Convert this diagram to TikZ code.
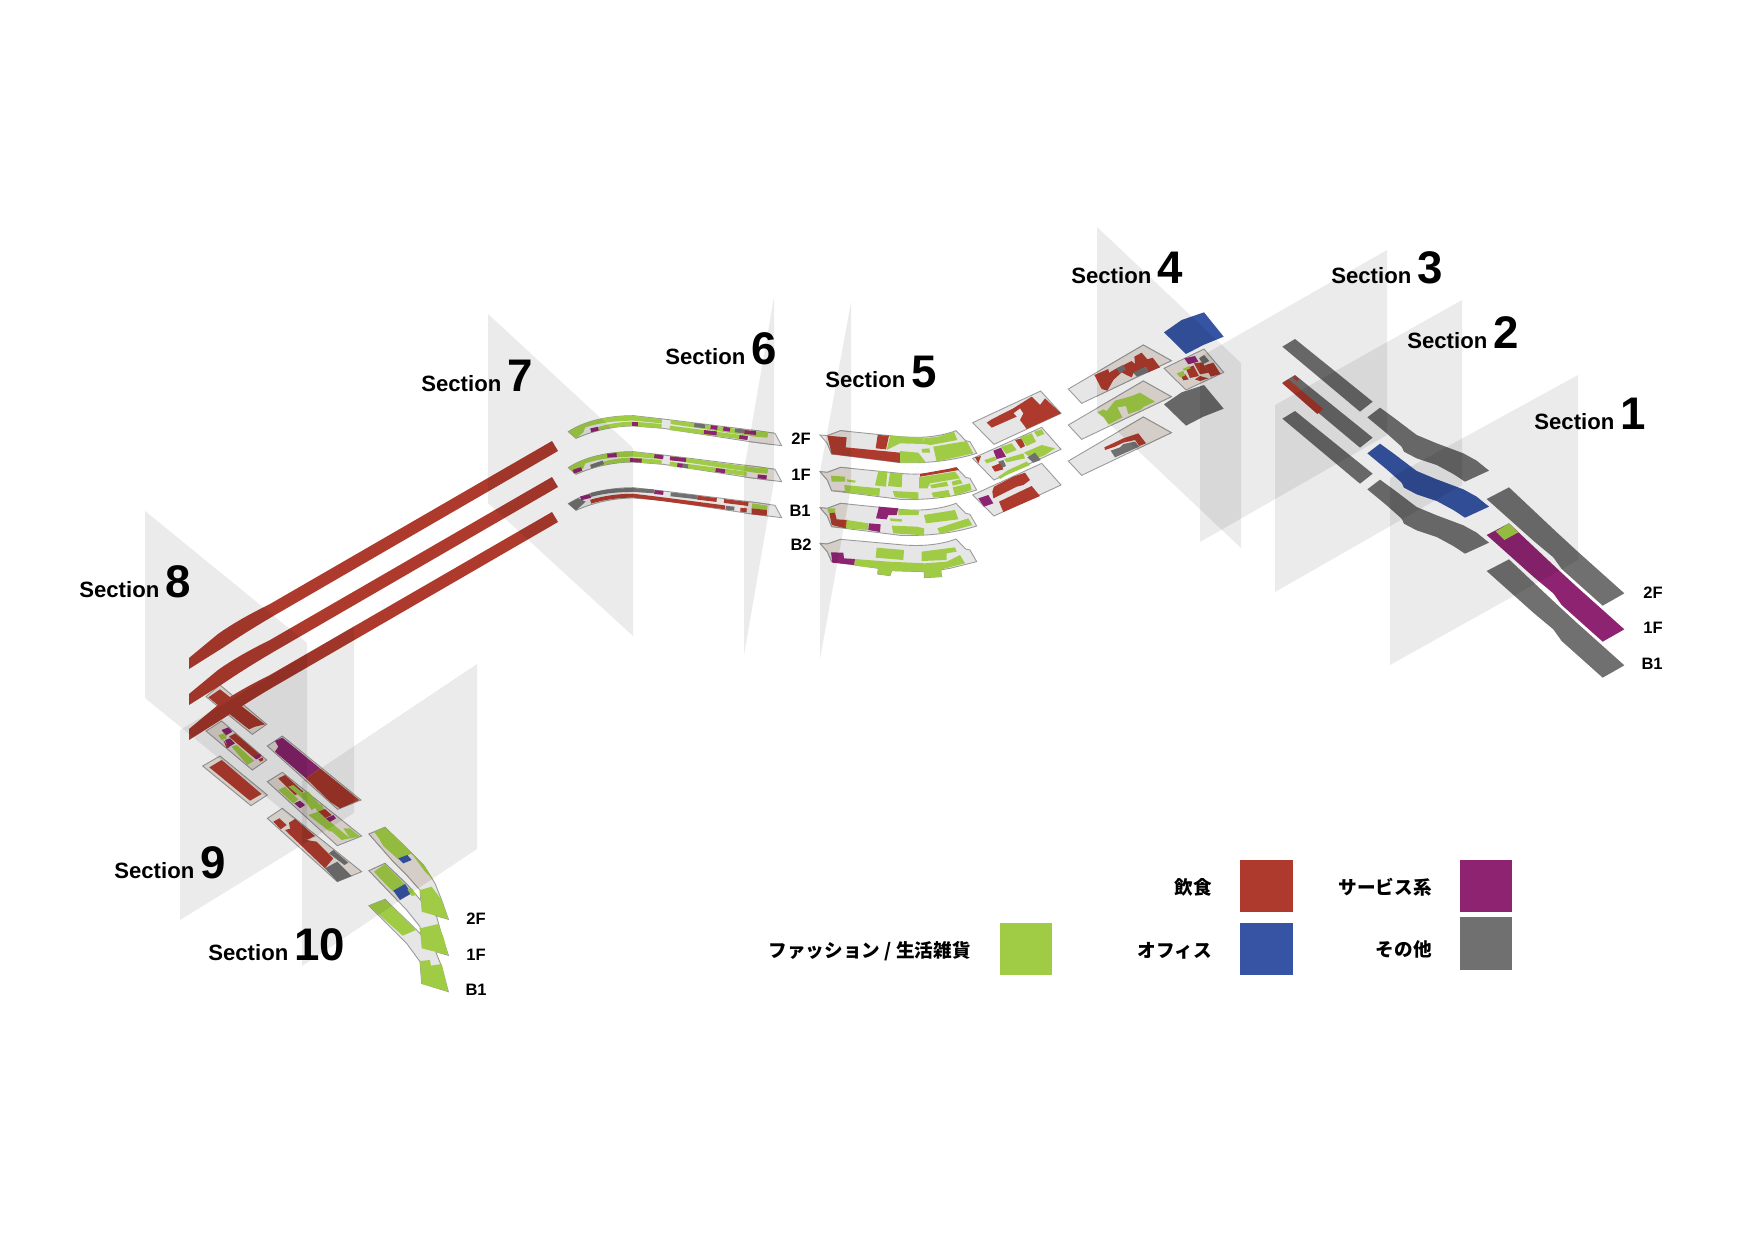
\documentclass[tikz,border=0pt]{standalone}
\usepackage{fontspec}
\setmainfont{Liberation Sans}
\newfontfamily\cjkfont{Noto Sans CJK JP}
\definecolor{foodred}{HTML}{AE3A2E}
\definecolor{shopgreen}{HTML}{A0CB45}
\definecolor{officeblue}{HTML}{3654A3}
\definecolor{servicepurple}{HTML}{8E2471}
\definecolor{othergray}{HTML}{707070}
\definecolor{floorgray}{HTML}{E6E6E6}
\definecolor{floorbeige}{HTML}{E8DFD9}
\definecolor{edgegray}{HTML}{9A9A9A}
\tikzset{
  planeshade/.style={fill=black,fill opacity=0.08},
  floorbase/.style={fill=floorgray,draw=edgegray,line width=0.5pt},
  floorwarm/.style={fill=floorbeige,draw=edgegray,line width=0.5pt},
  stripe/.style={line width=2.2pt},
  seclabel/.style={anchor=base west,inner sep=0pt,font=\fontsize{12.6}{14}\selectfont\bfseries},
  floorlabel/.style={anchor=base east,inner sep=0pt,font=\fontsize{9.4}{11}\selectfont\bfseries},
  keylabel/.style={anchor=east,inner sep=0pt,font=\fontsize{10.6}{12}\selectfont\cjkfont\bfseries},
  viewfour/.style={shift={(1000,220)},scale=0.33333},
  viewone/.style={shift={(1260,330)},scale=0.33333},
  viewfive/.style={shift={(800,380)},scale=0.33333},
  viewsix/.style={shift={(550,400)},scale=0.33333},
  vieweight/.style={shift={(170,640)},scale=0.33333},
  viewten/.style={shift={(250,760)},scale=0.33333}
}
\newcommand{\secnum}[1]{\fontsize{26}{26}\selectfont #1}
\begin{document}
\begin{tikzpicture}[x=0.02cm,y=-0.02cm]
  \useasboundingbox (0,0) rectangle (1755,1241);
  \fill [white] (0,0) rectangle (1755,1241);

  % section 1 to 3
  \begin{scope}[viewone]
    \foreach \y/\colA/\colB in {0/othergray/othergray,108/servicepurple/officeblue,216/othergray/othergray}
    {
      \fill [\colA] (680,507+\y) -- (747,472+\y) -- (885,602+\y) -- (950,662+\y) -- (1093,790+\y) -- (1028,827+\y) -- (905,717+\y) -- (880,682+\y) -- (820,632+\y) -- cycle;
      \fill [\colB] (322,262+\y) -- (360,233+\y) -- (400,262+\y) -- (470,315+\y) -- (530,340+\y) -- (610,370+\y) -- (650,392+\y) -- (687,422+\y) -- (615,455+\y) -- (580,432+\y) -- (530,405+\y) -- (470,385+\y) -- (432,365+\y) -- (425,350+\y) -- (380,310+\y) -- cycle;
      \fill [othergray] (67,50+\y) -- (105,27+\y) -- (338,215+\y) -- (300,245+\y) -- cycle;
    }
    \fill [shopgreen] (707,604) -- (747,580) -- (775,607) -- (733,630) -- cycle;
    \fill [foodred] (67,160) -- (85,148) -- (190,237) -- (172,252) -- cycle;
    \fill [foodred] (98,142) -- (105,137) -- (118,148) -- (110,153) -- cycle;
  \end{scope}

  % section 4
  \begin{scope}[viewfour]
    \foreach \y in {0,108,216}
      \filldraw [floorbase] (205,507+\y) -- (430,375+\y) -- (514,422+\y) -- (245,550+\y) -- cycle;
    \begin{scope}
      \clip (291,21) -- (723,429) -- (723,984) -- (291,576) -- cycle;
      \foreach \y in {0,108,216}
        \filldraw [floorwarm] (205,507+\y) -- (430,375+\y) -- (514,422+\y) -- (245,550+\y) -- cycle;
    \end{scope}
    \fill [foodred] (283,465) -- (325,447) -- (327,458) -- (350,445) -- (395,423) -- (405,432) -- (403,410) -- (425,398) -- (442,418) -- (458,413) -- (480,442) -- (445,457) -- (438,440) -- (400,460) -- (395,472) -- (380,465) -- (365,457) -- (340,480) -- (322,512) -- (305,507) -- cycle;
    \fill [othergray] (350,445) -- (370,435) -- (378,448) -- (358,460) -- cycle;
    \fill [othergray] (400,457) -- (438,440) -- (445,457) -- (410,470) -- cycle;
    \fill [shopgreen] (292,577) -- (310,568) -- (320,573) -- (345,542) -- (395,528) -- (420,518) -- (465,545) -- (432,560) -- (420,570) -- (385,582) -- (378,558) -- (352,562) -- (367,592) -- (325,614) -- (312,592) -- cycle;
    \fill [foodred] (313,682) -- (345,667) -- (370,655) -- (415,640) -- (438,670) -- (418,678) -- (405,660) -- (370,668) -- (345,680) -- (315,690) -- cycle;
    \fill [othergray] (332,692) -- (360,682) -- (370,672) -- (405,665) -- (418,680) -- (345,712) -- cycle;
    \fill [officeblue] (492,337) -- (545,300) -- (612,277) -- (671,350) -- (610,375) -- (558,402) -- cycle;
    \fill [othergray] (492,553) -- (545,517) -- (612,495) -- (671,566) -- (610,590) -- (558,617) -- cycle;
    \filldraw [floorwarm] (492,445) -- (612,387) -- (671,457) -- (558,510) -- cycle;
    \fill [servicepurple] (553,415) -- (585,408) -- (595,425) -- (565,433) -- cycle;
    \fill [othergray] (597,415) -- (612,405) -- (628,423) -- (610,432) -- cycle;
    \fill [foodred] (614,436) -- (640,428) -- (662,462) -- (632,470) -- cycle;
    \fill [foodred] (582,430) -- (607,427) -- (627,458) -- (600,463) -- cycle;
    \fill [foodred] (558,447) -- (580,436) -- (597,468) -- (570,474) -- cycle;
    \fill [foodred] (543,468) -- (555,462) -- (566,478) -- (550,481) -- cycle;
    \fill [foodred] (585,478) -- (600,468) -- (625,475) -- (600,483) -- cycle;
    \fill [shopgreen] (530,460) -- (550,453) -- (555,467) -- (540,472) -- cycle;
    \fill [shopgreen] (548,447) -- (568,438) -- (572,445) -- (552,452) -- cycle;
  \end{scope}

  % section 5
  \begin{scope}[viewfive]
    \filldraw [floorbase] (518,128) -- (722,33) -- (783,100) -- (582,193) -- cycle;
    \fill [foodred] (560,128) -- (575,118) -- (640,85) -- (695,50) -- (720,75) -- (735,55) -- (783,100) -- (680,147) -- (660,120) -- (670,100) -- (660,85) -- (640,100) -- (650,110) -- (575,143) -- cycle;
    \filldraw [floorbase] (518,235) -- (725,142) -- (783,208) -- (582,300) -- cycle;
    \fill [foodred] (525,232) -- (543,228) -- (535,250) -- cycle;
    \fill [shopgreen] (553,240) -- (585,230) -- (590,240) -- (560,250) -- cycle;
    \fill [shopgreen] (603,200) -- (635,190) -- (650,210) -- (618,222) -- cycle;
    \fill [foodred] (645,180) -- (665,175) -- (675,198) -- (662,205) -- cycle;
    \fill [shopgreen] (660,172) -- (695,160) -- (708,185) -- (680,198) -- cycle;
    \fill [shopgreen] (702,155) -- (725,148) -- (733,162) -- (712,170) -- cycle;
    \fill [shopgreen] (612,237) -- (670,220) -- (675,235) -- (620,247) -- cycle;
    \fill [shopgreen] (672,218) -- (725,195) -- (765,205) -- (735,225) -- (700,240) -- cycle;
    \fill [shopgreen] (595,290) -- (625,270) -- (680,245) -- (690,255) -- (620,285) -- (600,297) -- cycle;
    \fill [servicepurple] (580,212) -- (603,203) -- (618,230) -- (590,237) -- cycle;
    \fill [othergray] (682,232) -- (705,218) -- (722,240) -- (700,248) -- cycle;
    \fill [othergray] (595,245) -- (610,240) -- (618,258) -- (603,265) -- cycle;
    \fill [foodred] (575,260) -- (600,250) -- (610,268) -- (585,275) -- cycle;
    \filldraw [floorbase] (518,345) -- (725,250) -- (783,315) -- (582,408) -- cycle;
    \fill [foodred] (577,335) -- (582,320) -- (640,290) -- (675,278) -- (690,300) -- (670,315) -- (650,320) -- (580,355) -- cycle;
    \fill [foodred] (597,365) -- (695,318) -- (720,348) -- (610,396) -- cycle;
    \fill [servicepurple] (535,355) -- (565,345) -- (580,370) -- (552,380) -- cycle;

    \foreach \y in {0,110,218}
      \filldraw [floorbase] (60,165+\y) -- (82,167+\y) -- (122,152+\y) -- (300,170+\y) .. controls (360,176+\y) and (420,170+\y) .. (468,152+\y) -- (497,182+\y) -- (510,185+\y) -- (530,220+\y) .. controls (450,245+\y) and (370,250+\y) .. (300,248+\y) -- (95,222+\y) -- (82,190+\y) -- cycle;
    \filldraw [floorbase] (60,490) -- (82,492) -- (122,478) -- (300,494) .. controls (360,500) and (420,495) .. (468,477) -- (497,507) -- (510,510) -- (530,545) -- (450,565) -- (420,570) -- (425,590) -- (373,593) -- (373,575) -- (300,573) -- (275,572) -- (270,587) -- (233,582) -- (235,565) -- (95,545) -- (82,515) -- cycle;
    \begin{scope}
      \clip (60,276) -- (153,-234) -- (153,321) -- (60,837) -- cycle;
      \foreach \y in {0,110,218}
        \filldraw [floorwarm] (60,165+\y) -- (82,167+\y) -- (122,152+\y) -- (160,156+\y) -- (160,226+\y) -- (95,222+\y) -- (82,190+\y) -- cycle;
      \filldraw [floorwarm] (60,490) -- (82,492) -- (122,478) -- (160,482) -- (160,552) -- (95,545) -- (82,515) -- cycle;
    \end{scope}
    % 2F
    \fill [foodred] (82,167) -- (140,172) -- (137,202) -- (300,218) -- (300,248) -- (95,222) -- cycle;
    \fill [foodred] (233,165) -- (267,167) -- (258,208) -- (227,205) -- cycle;
    \fill [shopgreen] (270,168) -- (370,172) -- (372,192) -- (300,190) -- (260,210) -- cycle;
    \fill [shopgreen] (372,175) -- (415,170) -- (462,155) -- (472,180) -- (392,195) -- (372,192) -- cycle;
    \fill [shopgreen] (400,200) -- (500,183) -- (520,220) -- (410,245) -- cycle;
    \fill [shopgreen] (300,213) -- (355,218) -- (378,248) -- (300,248) -- cycle;
    \fill [shopgreen] (365,207) -- (388,205) -- (390,218) -- (367,218) -- cycle;
    % 1F
    \fill [shopgreen] (93,287) -- (135,290) -- (135,305) -- (95,305) -- cycle;
    \fill [shopgreen] (140,298) -- (167,302) -- (165,308) -- (142,305) -- cycle;
    \fill [shopgreen] (133,315) -- (240,325) -- (238,348) -- (135,337) -- cycle;
    \fill [shopgreen] (235,273) -- (262,275) -- (258,320) -- (225,316) -- cycle;
    \fill [shopgreen] (270,278) -- (307,281) -- (305,322) -- (264,318) -- cycle;
    \fill [shopgreen] (278,333) -- (355,337) -- (355,358) -- (285,352) -- cycle;
    \fill [foodred] (360,282) -- (470,262) -- (477,270) -- (360,290) -- cycle;
    \fill [shopgreen] (357,292) -- (465,275) -- (480,295) -- (390,310) -- (382,325) -- (357,325) -- cycle;
    \fill [shopgreen] (390,315) -- (440,305) -- (445,318) -- (395,325) -- cycle;
    \fill [shopgreen] (455,305) -- (480,298) -- (488,310) -- (458,317) -- cycle;
    \fill [shopgreen] (395,338) -- (445,330) -- (452,350) -- (400,352) -- cycle;
    \fill [shopgreen] (458,322) -- (510,310) -- (515,330) -- (465,347) -- cycle;
    % B1
    \fill [shopgreen] (82,385) -- (105,385) -- (105,400) -- (85,398) -- cycle;
    \fill [foodred] (88,400) -- (105,398) -- (110,418) -- (143,420) -- (138,445) -- (95,435) -- cycle;
    \fill [shopgreen] (140,420) -- (205,430) -- (205,450) -- (138,445) -- cycle;
    \fill [servicepurple] (207,430) -- (242,433) -- (240,456) -- (205,450) -- cycle;
    \fill [servicepurple] (237,380) -- (295,385) -- (290,405) -- (265,405) -- (260,418) -- (228,415) -- cycle;
    \fill [shopgreen] (295,388) -- (358,392) -- (355,405) -- (295,405) -- cycle;
    \fill [shopgreen] (270,415) -- (307,418) -- (305,425) -- (272,423) -- cycle;
    \fill [shopgreen] (275,437) -- (350,440) -- (372,445) -- (372,466) -- (280,460) -- cycle;
    \fill [shopgreen] (372,405) -- (465,390) -- (475,418) -- (378,430) -- cycle;
    \fill [shopgreen] (412,445) -- (505,415) -- (517,435) -- (420,462) -- cycle;
    % B2
    \fill [servicepurple] (93,517) -- (130,518) -- (132,535) -- (165,537) -- (163,555) -- (97,548) -- cycle;
    \fill [shopgreen] (165,537) -- (265,545) -- (375,550) -- (440,545) -- (480,525) -- (495,550) -- (425,568) -- (425,590) -- (373,593) -- (373,575) -- (275,572) -- (270,587) -- (233,582) -- (235,565) -- (163,557) -- cycle;
    \fill [shopgreen] (230,503) -- (312,510) -- (310,540) -- (227,533) -- cycle;
    \fill [shopgreen] (365,515) -- (465,502) -- (470,515) -- (440,520) -- (440,540) -- (365,543) -- cycle;
  \end{scope}

  % section 6
  \begin{scope}[viewsix]
    \foreach \y in {0,108,216}
      \filldraw [floorbase] (55,95+\y) .. controls (100,65+\y) and (170,47+\y) .. (250,47+\y) -- (340,57+\y) -- (620,92+\y) -- (675,100+\y) -- (695,137+\y) -- (600,125+\y) -- (340,85+\y) -- (250,78+\y) .. controls (190,78+\y) and (130,92+\y) .. (78,115+\y) -- cycle;
    \begin{scope}
      \clip (582,210) -- (672,-309) -- (672,246) -- (582,765) -- cycle;
      \foreach \y in {0,108,216}
        \filldraw [floorwarm] (500,78+\y) -- (620,92+\y) -- (675,100+\y) -- (695,137+\y) -- (600,125+\y) -- (500,110+\y) -- cycle;
    \end{scope}
    \foreach \y in {0,108}
    {
      \fill [shopgreen] (55,95+\y) .. controls (100,65+\y) and (170,47+\y) .. (250,47+\y) -- (337,58+\y) -- (335,70+\y) -- (250,62+\y) .. controls (190,62+\y) and (130,72+\y) .. (105,83+\y) -- (100,97+\y) -- (78,115+\y) -- cycle;
      \fill [shopgreen] (125,88+\y) .. controls (160,75+\y) and (200,65+\y) .. (250,65+\y) -- (335,72+\y) -- (335,85+\y) -- (250,78+\y) .. controls (200,78+\y) and (160,85+\y) .. (125,97+\y) -- cycle;
      \fill [shopgreen] (362,60+\y) -- (620,95+\y) -- (655,97+\y) -- (652,113+\y) -- (615,110+\y) -- (362,72+\y) -- cycle;
      \fill [shopgreen] (360,77+\y) -- (590,107+\y) -- (590,120+\y) -- (358,90+\y) -- cycle;
    }
    % 2F
    \draw [stripe,servicepurple] (122,91) -- (145,86);
    \draw [stripe,servicepurple] (246,71) -- (264,71);
    \draw [stripe,othergray] (433,75) -- (465,79);
    \draw [stripe,servicepurple] (482,81) -- (502,84);
    \draw [stripe,servicepurple] (520,86) -- (540,89);
    \draw [stripe,othergray] (555,91) -- (583,94);
    \draw [stripe,servicepurple] (583,96) -- (618,99);
    \draw [stripe,servicepurple] (462,96) -- (500,100);
    \draw [stripe,servicepurple] (568,111) -- (593,114);
    % 1F
    \draw [stripe,servicepurple] (172,167) -- (200,165);
    \draw [stripe,servicepurple] (313,168) -- (340,172);
    \draw [stripe,servicepurple] (360,175) -- (408,180);
    \draw [stripe,servicepurple] (240,180) -- (275,182);
    \draw [stripe,servicepurple] (382,195) -- (398,197);
    \draw [stripe,othergray] (398,197) -- (414,199);
    \draw [stripe,servicepurple] (497,210) -- (525,214);
    \draw [stripe,servicepurple] (623,229) -- (650,232);
    \draw [stripe,servicepurple] (70,215) -- (95,207);
    \draw [stripe,othergray] (122,200) -- (160,187);
    % B1
    \fill [othergray] (55,311) -- (85,295) -- (107,305) -- (78,331) -- cycle;
    \draw [stripe,servicepurple] (92,295) -- (122,288);
    \draw [stripe,othergray] (122,285) .. controls (165,273) and (210,270) .. (250,270) -- (312,274);
    \draw [stripe,servicepurple] (313,276) -- (340,279);
    \draw [stripe,othergray] (362,283) -- (442,292);
    \draw [stripe,foodred] (442,293) -- (500,300);
    \draw [stripe,foodred] (522,303) -- (595,312);
    \fill [shopgreen] (607,310) -- (653,317) -- (651,330) -- (605,325) -- cycle;
    \fill [foodred] (605,325) -- (651,330) -- (650,347) -- (605,343) -- cycle;
    \draw [stripe,foodred] (122,305) .. controls (165,292) and (210,287) .. (250,287) -- (340,298) -- (525,322);
    \draw [stripe,othergray] (527,323) -- (553,326);
    \draw [stripe,foodred] (571,329) -- (590,331);
  \end{scope}

  % section 8 and 9
  \begin{scope}[vieweight]
    \filldraw [floorwarm] (108,170) -- (150,135) -- (290,253) -- (247,283) -- cycle;
    \fill [foodred] (115,172) -- (150,148) -- (285,253) -- (255,260) -- (237,268) -- cycle;
    \filldraw [floorwarm] (108,273) -- (155,243) -- (290,360) -- (247,390) -- cycle;
    \fill [foodred] (177,290) -- (195,280) -- (275,348) -- (258,358) -- cycle;
    \fill [servicepurple] (155,270) -- (175,262) -- (187,275) -- (167,287) -- cycle;
    \fill [shopgreen] (145,285) -- (165,280) -- (170,295) -- (155,300) -- cycle;
    \fill [foodred] (160,300) -- (178,322) -- (170,325) -- cycle;
    \fill [servicepurple] (165,300) -- (180,295) -- (195,310) -- (175,322) -- cycle;
    \fill [shopgreen] (185,320) -- (200,315) -- (252,362) -- (232,375) -- cycle;
    \fill [servicepurple] (252,348) -- (272,342) -- (270,352) -- (260,358) -- cycle;
    \fill [foodred] (265,358) -- (278,352) -- (280,360) -- (272,365) -- cycle;
    \filldraw [floorwarm] (98,378) -- (150,348) -- (292,465) -- (243,497) -- cycle;
    \fill [foodred] (118,382) -- (155,360) -- (275,462) -- (240,482) -- cycle;
    \filldraw [floorwarm] (292,318) -- (337,288) -- (573,480) -- (503,508) -- cycle;
    \fill [servicepurple] (315,303) -- (337,293) -- (450,385) -- (408,415) -- (315,335) -- (325,320) -- cycle;
    \fill [foodred] (408,415) -- (450,385) -- (568,480) -- (510,505) -- (480,485) -- cycle;
  \end{scope}
  \begin{scope}[viewten]
    \filldraw [floorwarm] (52,65) -- (97,37) -- (335,228) -- (262,257) -- cycle;
    \fill [foodred] (85,55) -- (105,45) -- (160,95) -- (135,105) -- cycle;
    \fill [shopgreen] (85,90) -- (105,80) -- (145,118) -- (130,130) -- cycle;
    \fill [shopgreen] (115,80) -- (130,75) -- (190,125) -- (175,130) -- cycle;
    \fill [shopgreen] (150,100) -- (175,95) -- (210,135) -- (185,150) -- cycle;
    \fill [servicepurple] (133,130) -- (150,122) -- (165,135) -- (150,145) -- cycle;
    \fill [shopgreen] (190,135) -- (215,133) -- (222,148) -- (205,158) -- cycle;
    \fill [foodred] (205,155) -- (225,147) -- (245,165) -- (225,175) -- cycle;
    \fill [servicepurple] (228,175) -- (250,165) -- (258,175) -- (238,187) -- cycle;
    \fill [shopgreen] (175,165) -- (205,155) -- (260,205) -- (240,215) -- cycle;
    \fill [shopgreen] (218,190) -- (240,185) -- (300,235) -- (275,240) -- cycle;
    \fill [shopgreen] (280,205) -- (300,205) -- (330,230) -- (300,235) -- cycle;
    \filldraw [floorwarm] (52,175) -- (97,145) -- (335,335) -- (262,365) -- cycle;
    \fill [foodred] (70,185) -- (88,175) -- (110,195) -- (92,208) -- cycle;
    \fill [foodred] (117,188) -- (135,177) -- (195,228) -- (170,240) -- (120,205) -- cycle;
    \fill [foodred] (105,210) -- (125,205) -- (170,240) -- (200,245) -- (250,295) -- (225,325) -- cycle;
    \fill [othergray] (237,280) -- (250,270) -- (295,308) -- (283,315) -- cycle;
    \fill [othergray] (225,325) -- (262,305) -- (305,348) -- (262,365) -- cycle;
    % section 10
    \filldraw [floorbase] (357,222) -- (405,202) -- (470,265) -- (520,315) -- (555,370) -- (575,420) -- (595,478) -- (515,455) -- (510,390) -- (470,345) -- (430,305) -- cycle;
    \filldraw [floorbase] (357,332) -- (405,310) -- (470,372) -- (520,430) -- (560,470) -- (575,525) -- (595,586) -- (515,563) -- (510,500) -- (470,450) -- cycle;
    \filldraw [floorbase] (357,437) -- (405,418) -- (500,510) -- (555,570) -- (575,620) -- (595,695) -- (515,670) -- (510,605) -- (470,550) -- cycle;
    \begin{scope}
      \clip (155,63) -- (680,-288) -- (680,268) -- (155,617) -- cycle;
      \filldraw [floorwarm] (357,222) -- (405,202) -- (470,265) -- (520,315) -- (555,370) -- (575,420) -- (595,478) -- (515,455) -- (510,390) -- (470,345) -- (430,305) -- cycle;
      \filldraw [floorwarm] (357,332) -- (405,310) -- (470,372) -- (520,430) -- (560,470) -- (575,525) -- (595,586) -- (515,563) -- (510,500) -- (470,450) -- cycle;
    \end{scope}
    \fill [shopgreen] (372,215) -- (405,202) -- (455,248) -- (485,280) -- (445,298) -- (400,258) -- (385,232) -- cycle;
    \fill [shopgreen] (485,280) -- (525,320) -- (550,360) -- (525,335) -- cycle;
    \fill [officeblue] (445,295) -- (472,285) -- (485,300) -- (460,310) -- cycle;
    \fill [shopgreen] (510,390) -- (545,380) -- (575,420) -- (595,478) -- (515,455) -- cycle;
    \fill [shopgreen] (372,335) -- (405,312) -- (470,378) -- (430,395) -- (390,355) -- cycle;
    \fill [officeblue] (430,392) -- (465,372) -- (485,400) -- (450,420) -- cycle;
    \fill [shopgreen] (472,388) -- (485,385) -- (500,405) -- (485,408) -- cycle;
    \fill [shopgreen] (510,505) -- (565,492) -- (580,530) -- (595,585) -- (515,565) -- cycle;
    \fill [shopgreen] (357,437) -- (405,418) -- (498,510) -- (458,527) -- cycle;
    \fill [shopgreen] (510,603) -- (540,600) -- (543,617) -- (575,612) -- (595,695) -- (515,672) -- cycle;
  \end{scope}

  % bridges of section 7
  \foreach \y in {0,36,71}
    \fill [foodred] (552,441+\y) -- (558,451+\y) -- (275,615+\y) .. controls (258,625+\y) and (240,636+\y) .. (224,647+\y) -- (189,669+\y) -- (189,658+\y) -- (218,634+\y) .. controls (235,622+\y) and (252,613+\y) .. (270,604+\y) -- cycle;

  % section planes
  \fill [planeshade] (1097,227) -- (1241,363) -- (1241,548) -- (1097,412) -- cycle;
  \fill [planeshade] (1200,357) -- (1387,250) -- (1387,435) -- (1200,542) -- cycle;
  \fill [planeshade] (1275,405) -- (1462,300) -- (1462,485) -- (1275,592) -- cycle;
  \fill [planeshade] (1390,478) -- (1578,375) -- (1578,560) -- (1390,665) -- cycle;
  \fill [planeshade] (820,472) -- (851,302) -- (851,487) -- (820,659) -- cycle;
  \fill [planeshade] (744,470) -- (774,297) -- (774,482) -- (744,655) -- cycle;
  \fill [planeshade] (488,314) -- (633,448) -- (633,636) -- (488,503) -- cycle;
  \fill [planeshade] (145,511) -- (307,643) -- (307,830) -- (145,698) -- cycle;
  \fill [planeshade] (180,730) -- (354,626) -- (354,813) -- (180,920) -- cycle;
  \fill [planeshade] (302,781) -- (477,664) -- (477,849) -- (302,966) -- cycle;

  % labels
  \node (sec1) [seclabel] at (1534,429) {Section \secnum{1}};
  \node (sec2) [seclabel] at (1407,348) {Section \secnum{2}};
  \node (sec3) [seclabel] at (1331,283) {Section \secnum{3}};
  \node (sec4) [seclabel] at (1071,283) {Section \secnum{4}};
  \node (sec5) [seclabel] at (825,387) {Section \secnum{5}};
  \node (sec6) [seclabel] at (665,364) {Section \secnum{6}};
  \node (sec7) [seclabel] at (421,391) {Section \secnum{7}};
  \node (sec8) [seclabel] at (79,597) {Section \secnum{8}};
  \node (sec9) [seclabel] at (114,878) {Section \secnum{9}};
  \node (sec10) [seclabel] at (208,960) {Section \secnum{10}};

  \node (rightA) [floorlabel] at (1663,598) {2F};
  \node (rightB) [floorlabel] at (1663,633) {1F};
  \node (rightC) [floorlabel] at (1663,669) {B1};
  \node (midA) [floorlabel] at (811,444) {2F};
  \node (midB) [floorlabel] at (811,480) {1F};
  \node (midC) [floorlabel] at (811,516) {B1};
  \node (midD) [floorlabel] at (812,550) {B2};
  \node (leftA) [floorlabel] at (486,924) {2F};
  \node (leftB) [floorlabel] at (486,960) {1F};
  \node (leftC) [floorlabel] at (487,995) {B1};

  % legend
  \fill [shopgreen] (999.5,922.5) rectangle (1052,975);
  \fill [foodred] (1240,859.5) rectangle (1292.5,912);
  \fill [officeblue] (1240,922.5) rectangle (1292.5,975);
  \fill [servicepurple] (1459.5,859.5) rectangle (1512,912);
  \fill [othergray] (1459.5,917) rectangle (1512,969.5);
  \node (keyshop) [keylabel] at (971,951) {ファッション / 生活雑貨};
  \node (keyfood) [keylabel] at (1212,887) {飲食};
  \node (keyoffice) [keylabel] at (1212,951) {オフィス};
  \node (keyservice) [keylabel] at (1432,887) {サービス系};
  \node (keyother) [keylabel] at (1432,949) {その他};
\end{tikzpicture}
\end{document}
